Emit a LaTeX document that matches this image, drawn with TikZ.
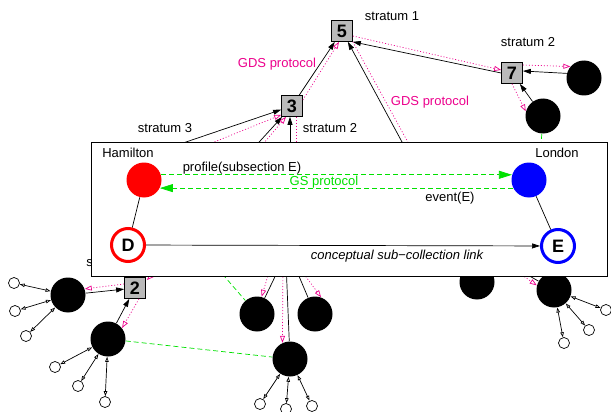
\documentclass[tikz,border=0pt]{standalone}
\usepackage{fontspec}
\setmainfont{Liberation Sans}
\usetikzlibrary{positioning}
\usetikzlibrary{calc}
\usetikzlibrary{arrows.meta}

\definecolor{gsgreen}{RGB}{0,225,0}

\tikzset{
    gds/.style={rectangle, draw, fill=black!27, minimum size=21pt,
        inner sep=0, font=\fontsize{18}{18}\selectfont\bfseries},
    host/.style={circle, fill=black, minimum size=35pt, inner sep=0},
    leaf/.style={circle, draw, fill=white, minimum size=11pt, inner sep=0},
    caption/.style={font=\fontsize{13}{15}\selectfont, inner sep=1pt},
    report/.style={-{Triangle[length=8pt,width=5pt]}},
    gdsmsg/.style={magenta, dash pattern=on 1pt off 2pt,
        -{Triangle[open,length=7pt,width=5pt]}},
    gsmsg/.style={gsgreen, dash pattern=on 5pt off 3pt},
    gsarrow/.style={gsmsg, -{Triangle[length=13pt,width=8pt]}},
    leafline/.style={{Triangle[open,length=5pt,width=3.5pt]}-{Triangle[open,length=5pt,width=3.5pt]}},
    site/.style={circle, minimum size=35pt, inner sep=0},
    collection/.style={circle, draw, line width=3pt, fill=white,
        minimum size=33pt, inner sep=0, font=\fontsize{18}{18}\selectfont\bfseries}
}

\begin{document}
\begin{tikzpicture}[x=1pt, y=-1pt, line width=0.7pt]

% Greenstone directory service network

\useasboundingbox (0,0) rectangle (611,412);

\node [gds] (n5) at (342,31) {5};
\node [gds] (n3) at (292,106) {3};
\node [gds] (n7) at (512,73) {7};
\node [gds] (n2) at (135,288) {2};

\node [caption] (stratum one) at (392,16) {stratum 1};
\node [caption] (stratum two a) at (330,128) {stratum 2};
\node [caption] (stratum two b) at (528,42) {stratum 2};
\node [caption] (stratum three) at (165,128) {stratum 3};
\node [caption, anchor=west] (stratum hidden) at (85,262) {stratum 3};
\node [caption, text=magenta] (gds left) at (277,64) {GDS protocol};
\node [caption, text=magenta] (gds right) at (430,102) {GDS protocol};

\node [host] (b7r) at (584,78) {};
\node [host] (b7d) at (543,116) {};
\node [host] (b2l) at (68,295) {};
\node [host] (b2d) at (108,339) {};
\node [host] (bc1) at (257,314) {};
\node [host] (bc2) at (315,314) {};
\node [host] (bc3) at (290,359) {};
\node [host] (br1) at (477,282) {};
\node [host] (br2) at (554,290) {};

\node [leaf] (l1) at (14,283) {};
\node [leaf] (l2) at (15,311) {};
\node [leaf] (l3) at (26,336) {};
\node [leaf] (l4) at (55,367) {};
\node [leaf] (l5) at (78,386) {};
\node [leaf] (l6) at (105,402) {};
\node [leaf] (l7) at (260,404) {};
\node [leaf] (l8) at (286,409) {};
\node [leaf] (l9) at (312,406) {};
\node [leaf] (l10) at (606,310) {};
\node [leaf] (l11) at (589,330) {};
\node [leaf] (l12) at (564,343) {};

% ends under the collection box
\coordinate (hA) at (130,161);
\coordinate (mA) at (170,160);
\coordinate (hB) at (240,163);
\coordinate (mB) at (248,162);
\coordinate (hC) at (290,170);
\coordinate (mC) at (296,170);
\coordinate (hD) at (415,166);
\coordinate (mD) at (421,166);
\coordinate (hE) at (284,258);
\coordinate (mE) at (272,262);
\coordinate (hF) at (286,262);
\coordinate (mF) at (283,262);
\coordinate (hG) at (293,262);
\coordinate (mG) at (295,262);
\coordinate (gE) at (212,262);
\coordinate (hH) at (512,266);
\coordinate (mH) at (512,268);
\coordinate (gL) at (540,160);
\coordinate (m2) at (165,262);

\draw [report] (n3) -- (n5);
\draw [gdsmsg] ([yshift=6pt]n3.east) -- ([xshift=-3pt]n5.south);
\draw [report] (n7.west) -- (n5.south east);
\draw [gdsmsg] ([yshift=-5pt]n5.east) -- ([yshift=3pt]n7.west);
\draw [report] (hD) -- (n5);
\draw [gdsmsg] (n5.south east) -- (mD);

\draw [report] (hA) -- (n3);
\draw [gdsmsg] (mA) -- ([yshift=2pt]n3.south west);
\draw [report] (hB) -- (n3);
\draw [gdsmsg] (mB) -- ([xshift=-6pt]n3.south);
\draw [report] (hC) -- ([xshift=-2pt]n3.south);
\draw [gdsmsg] ([xshift=4pt]n3.south) -- (mC);

\draw [report] (b7r.165) -- ([yshift=2pt]n7.east);
\draw [gdsmsg] ([yshift=8pt]n7.east) -- (b7r.140);
\draw [report] (b7d) -- (n7);
\draw [gdsmsg] (n7.south) -- (b7d.165);
\draw [gsmsg] (b7d) -- (gL);

\draw [report] (b2l) -- (n2);
\draw [gdsmsg] ([yshift=4pt]n2.west) -- (b2l.20);
\draw [report] (b2d) -- (n2);
\draw [gdsmsg] ([xshift=4pt]n2.south) -- (b2d.38);
\draw [gdsmsg] (m2) -- ([xshift=1pt,yshift=-3pt]n2.north east);

\draw [report] (bc1) -- (hE);
\draw [gdsmsg] (mE) -- (bc1.75);
\draw [report] (bc3) -- (hF);
\draw [gdsmsg] (mF) -- (bc3.115);
\draw [report] (bc2) -- (hG);
\draw [gdsmsg] (mG) -- (bc2.70);
\draw [gsmsg] (gE) -- (bc1);
\draw [gsmsg] (b2d) -- (bc3);

\draw [report] (br2) -- (hH);
\draw [gdsmsg] (mH) -- (br2.165);

\draw [leafline] (b2l) -- (l1);
\draw [leafline] (b2l) -- (l2);
\draw [leafline] (b2l) -- (l3);
\draw [leafline] (b2d) -- (l4);
\draw [leafline] (b2d) -- (l5);
\draw [leafline] (b2d) -- (l6);
\draw [leafline] (bc3) -- (l7);
\draw [leafline] (bc3) -- (l8);
\draw [leafline] (bc3) -- (l9);
\draw [leafline] (br2) -- (l10);
\draw [leafline] (br2) -- (l11);
\draw [leafline] (br2) -- (l12);

% Collection box on top

\node [draw, fill=white, anchor=north west, inner sep=0,
    minimum width=516pt, minimum height=134pt] (frame) at (91,142) {};

\node [site, fill=red,
    label={[caption, xshift=-16pt, yshift=3pt]above:Hamilton}] (ham) at (144,180) {};
\node [site, fill=blue,
    label={[caption, xshift=28pt, yshift=3pt]above:London}] (lon) at (529,180) {};
\node [collection, draw=red] (D) at (128,245) {D};
\node [collection, draw=blue] (E) at (558,246) {E};

\draw (ham) -- (D);
\draw (lon) -- (E);
\draw [gsarrow] (ham.17) -- (lon.163);
\draw [gsarrow] (lon.207) -- (ham.-27);
\draw [report] (D) -- (E);

\node [caption] (profile) at (242,168) {profile(subsection E)};
\node [caption, text=gsgreen] (gs) at (324,182) {GS protocol};
\node [caption] (event) at (450,198) {event(E)};
\node [caption, font=\fontsize{13}{15}\selectfont\itshape] (concept)
    at (397,256) {conceptual sub−collection link};

\end{tikzpicture}
\end{document}
